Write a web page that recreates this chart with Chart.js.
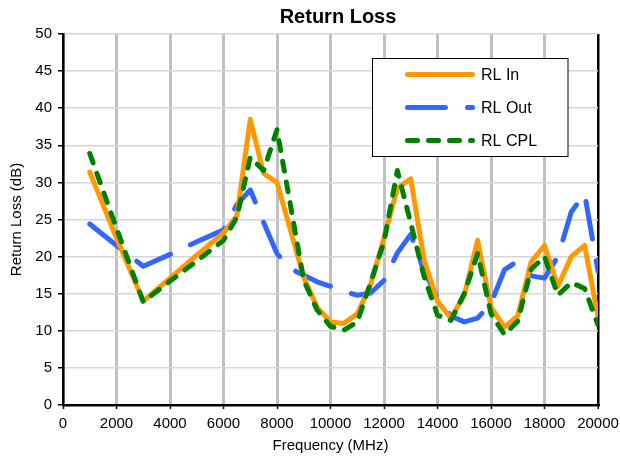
<!DOCTYPE html>
<html>
<head>
<meta charset="utf-8">
<script src="https://cdn.jsdelivr.net/npm/chart.js@4.4.1/dist/chart.umd.min.js"></script>
<style>
  html, body { margin: 0; padding: 0; background: #fff; }
  #wrap { width: 620px; height: 458px; }
</style>
</head>
<body>
<div id="wrap"><canvas id="rl-chart"></canvas></div>
<script>
// frequencies in MHz
const freqs = [1000, 2000, 3000, 4000, 5000, 6000, 6500, 7000, 7500, 8000, 8500, 9000, 9500, 10000, 10500, 11000, 11500, 12000, 12500, 13000, 13500, 14000, 14500, 15000, 15500, 16000, 16500, 17000, 17500, 18000, 18500, 19000, 19500, 20000];

const rlIn = [31.4, 22.5, 14.0, 17.1, 20.2, 23.2, 25.5, 38.5, 31.2, 30.0, 23.6, 17.2, 13.2, 11.2, 11.0, 12.3, 16.2, 22.5, 29.2, 30.5, 19.5, 14.0, 11.7, 14.8, 22.2, 13.2, 10.5, 12.0, 19.3, 21.5, 16.0, 20.0, 21.5, 11.9];
const rlOut = [24.4, 21.5, 18.7, 20.3, 22.0, 23.6, 27.0, 29.0, 24.6, 20.4, 18.4, 17.5, 16.6, 16.0, 15.3, 14.8, 15.1, 16.8, 20.5, 23.0, 18.0, 14.5, 12.0, 11.2, 11.7, 13.7, 18.2, 19.4, 17.4, 17.1, 20.0, 26.0, 28.5, 18.0];
const rlCpl = [33.9, 23.8, 13.9, 16.7, 19.4, 22.2, 25.3, 33.4, 31.6, 37.1, 27.0, 16.8, 12.8, 10.6, 10.1, 11.2, 16.5, 22.0, 31.6, 24.5, 17.3, 12.1, 11.4, 15.0, 20.4, 12.3, 9.5, 11.3, 18.3, 20.0, 14.8, 16.5, 15.7, 10.8];

const xTicks = [0, 2000, 4000, 6000, 8000, 10000, 12000, 14000, 16000, 18000, 20000];
const yTicks = [0, 5, 10, 15, 20, 25, 30, 35, 40, 45, 50];

function toPoints(vals) {
  return freqs.map((f, i) => ({ x: f, y: vals[i] }));
}

// title + boxed legend inside the plot, like the original
const extras = {
  id: "extras",
  afterDraw(chart) {
    const ctx = chart.ctx;
    ctx.save();
    ctx.fillStyle = "#000";
    ctx.font = "bold 20px Arial, 'Liberation Sans', sans-serif";
    ctx.textAlign = "center";
    ctx.textBaseline = "middle";
    ctx.fillText("Return Loss", 338, 17);

    ctx.fillStyle = "#fff";
    ctx.fillRect(372.5, 58.5, 195.5, 98);
    ctx.strokeStyle = "#000";
    ctx.lineWidth = 1;
    ctx.strokeRect(372.5, 58.5, 195.5, 98);

    const rows = [74.5, 107.5, 140.5];
    const order = [1, 0, 2];
    order.forEach((di, r) => {
      const ds = chart.data.datasets[di];
      ctx.beginPath();
      ctx.setLineDash(ds.borderDash || []);
      ctx.lineCap = "round";
      ctx.lineWidth = ds.borderWidth;
      ctx.strokeStyle = ds.borderColor;
      ctx.moveTo(407.5, rows[r]);
      ctx.lineTo(472.5, rows[r]);
      ctx.stroke();
      ctx.setLineDash([]);
      ctx.fillStyle = "#000";
      ctx.font = "16px Arial, 'Liberation Sans', sans-serif";
      ctx.textAlign = "left";
      ctx.fillText(ds.label, 481, rows[r] + 1);
    });
    ctx.restore();
  },
};

const tickFont = { family: "Arial, 'Liberation Sans', sans-serif", size: 15 };

new Chart(document.getElementById("rl-chart"), {
  type: "line",
  data: {
    datasets: [
      {
        label: "RL Out",
        data: toPoints(rlOut),
        borderColor: "#3366FF",
        borderWidth: 5,
        borderDash: [38, 22],
        borderCapStyle: "round",
        borderJoinStyle: "round",
        pointRadius: 0,
        order: 2,
      },
      {
        label: "RL In",
        data: toPoints(rlIn),
        borderColor: "#FF9900",
        borderWidth: 5,
        borderCapStyle: "round",
        borderJoinStyle: "round",
        pointRadius: 0,
        order: 1,
      },
      {
        label: "RL CPL",
        data: toPoints(rlCpl),
        borderColor: "#008000",
        borderWidth: 5,
        borderDash: [10, 11],
        borderCapStyle: "round",
        borderJoinStyle: "round",
        pointRadius: 0,
        order: 0,
      },
    ],
  },
  options: {
    responsive: true,
    maintainAspectRatio: false,
    animation: false,
    layout: { padding: { left: 0, right: 22, top: 34, bottom: 0 } },
    plugins: {
      legend: { display: false },
      title: { display: false },
      tooltip: { enabled: false },
    },
    scales: {
      x: {
        type: "linear",
        min: 0,
        max: 20000,
        afterBuildTicks: (s) => { s.ticks = xTicks.map((v) => ({ value: v })); },
        afterFit: (s) => {
          s.height = 53;
          s.paddingLeft = 0;
          s.paddingRight = 0;
        },
        ticks: {
          font: tickFont,
          color: "#000",
          padding: 6,
          maxRotation: 0,
          autoSkip: false,
          callback: (v) => String(v),
        },
        grid: {
          color: (c) => (c.tick && c.tick.value === 20000 ? "#000" : "#c0c0c0"),
          lineWidth: (c) => (c.tick && c.tick.value === 20000 ? 2.5 : 3),
          tickColor: "#000",
          tickLength: 4,
          tickWidth: 1.5,
        },
        border: { display: true, color: "#000", width: 2.5 },
        title: {
          display: true,
          text: "Frequency (MHz)",
          color: "#000",
          font: tickFont,
          padding: { top: 0, bottom: 3 },
        },
      },
      y: {
        min: 0,
        max: 50,
        afterBuildTicks: (s) => { s.ticks = yTicks.map((v) => ({ value: v })); },
        afterFit: (s) => {
          s.width = 63;
          s.paddingTop = 0;
          s.paddingBottom = 0;
        },
        ticks: { font: tickFont, color: "#000", padding: 6 },
        grid: {
          color: "#d6d6d6",
          lineWidth: 1.5,
          tickColor: "#000",
          tickLength: 5,
          tickWidth: 1.5,
        },
        border: { display: true, color: "#000", width: 2.5 },
        title: {
          display: true,
          text: "Return Loss (dB)",
          color: "#000",
          font: tickFont,
          padding: { top: 8, bottom: 0 },
        },
      },
    },
  },
  plugins: [extras],
});
</script>
</body>
</html>
